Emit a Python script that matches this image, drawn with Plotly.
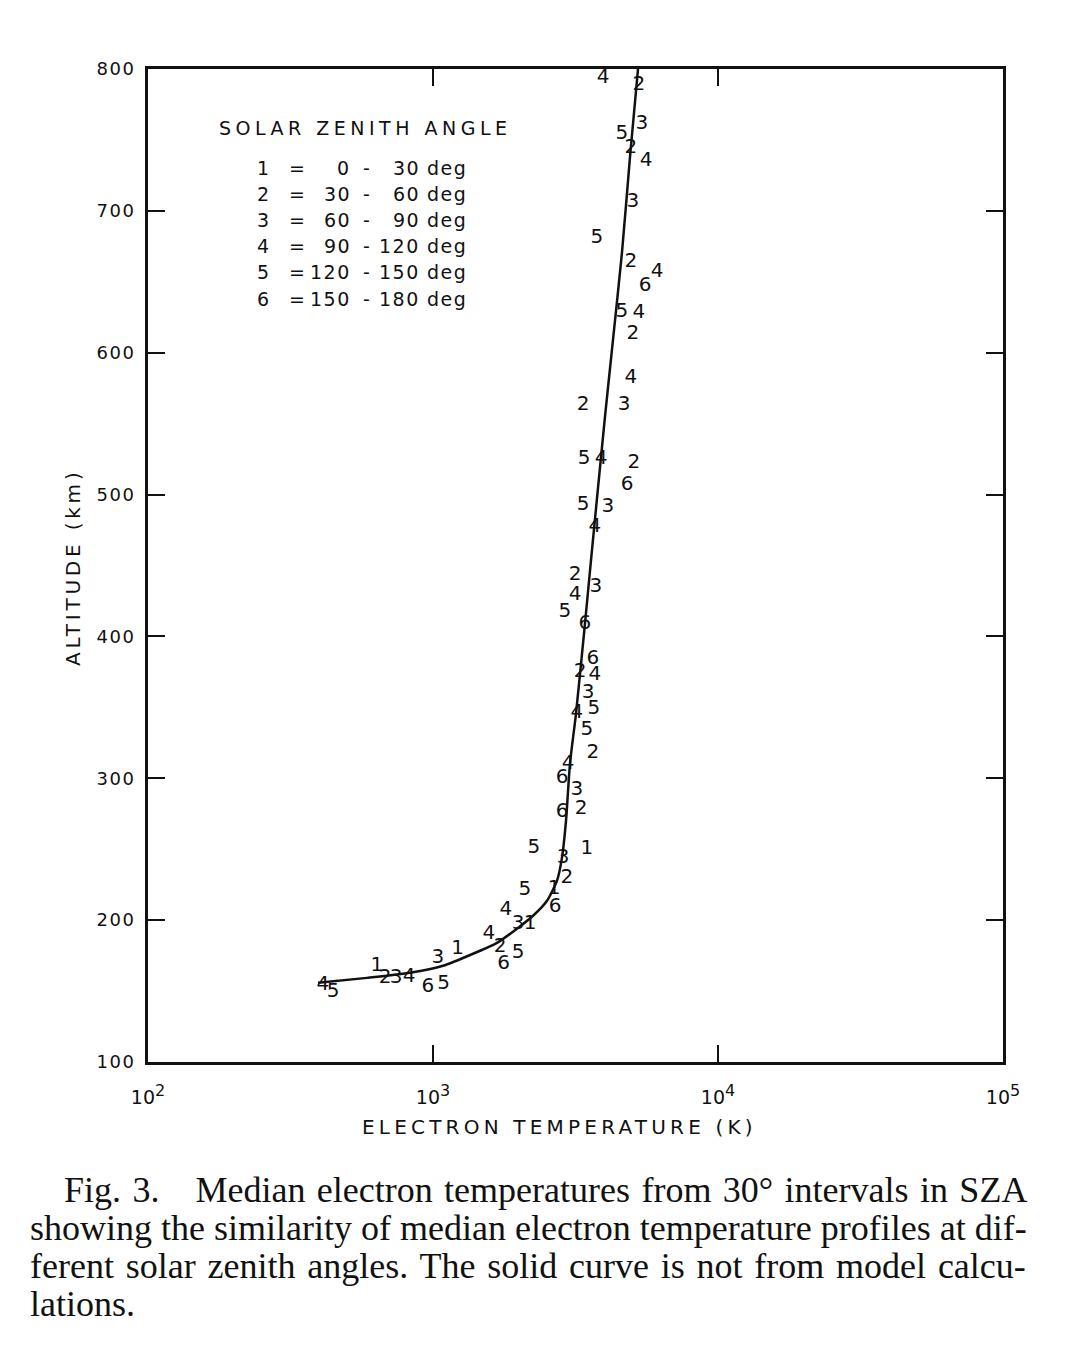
import plotly.graph_objects as go

# ---------------- data ----------------
# Median electron temperature (K) and altitude (km) for each SZA bin
sza1_temp = [3470, 2660, 2190, 1220, 636]
sza1_alt = [250, 222, 197, 180, 168]
sza2_temp = [5280, 4950, 4950, 5030, 3360, 5070, 3150, 3280, 3640, 3310, 2950, 1720, 679]
sza2_alt = [789, 744, 664, 613, 563, 522, 443, 375, 318, 278, 230, 181, 159]
sza3_temp = [5410, 5030, 4680, 4110, 3730, 3500, 3200, 2860, 1990, 1040, 742]
sza3_alt = [761, 706, 563, 491, 435, 360, 292, 244, 197, 173, 159]
sza4_temp = [3950, 5590, 6110, 5280, 4950, 3890, 3700, 3150, 3700, 3200, 2980, 1800, 1570, 824, 411]
sza4_alt = [794, 735, 657, 628, 582, 525, 477, 429, 373, 346, 310, 207, 190, 160, 154]
sza5_temp = [4600, 3760, 4600, 3390, 3360, 2900, 3670, 3470, 2260, 2100, 1990, 1090, 446]
sza5_alt = [754, 681, 629, 525, 493, 417, 349, 334, 251, 221, 177, 155, 149]
sza6_temp = [5550, 4800, 3410, 3640, 2840, 2840, 2680, 1770, 960]
sza6_alt = [647, 507, 409, 384, 300, 276, 209, 169, 153]

# Solid curve
curve_temp = [395, 587, 830, 1084, 1382, 1677, 1971, 2244, 2512, 2723, 2835, 2929,
              3025, 3176, 3415, 3585, 4013, 4246, 4604, 4914, 5240]
curve_alt = [155.8, 159.3, 162.9, 167.8, 176.3, 184.0, 194.0, 203.1, 213.7, 227.8, 244.1, 270.2,
             310.5, 345.8, 409.4, 453.9, 554.9, 602.2, 670.7, 738.5, 800]

# Legend contents
sza_ids = ["1", "2", "3", "4", "5", "6"]
sza_lo = ["0", "30", "60", "90", "120", "150"]
sza_hi = ["30", "60", "90", "120", "150", "180"]

# Axis ticks
y_ticks = [100, 200, 300, 400, 500, 600, 700, 800]
x_ticks = [100, 1000, 10000, 100000]
x_exponents = ["2", "3", "4", "5"]

caption_lines = [
    "Fig. 3.\u2003Median electron temperatures from 30\u00b0 intervals in SZA",
    "showing the similarity of median electron temperature profiles at dif-",
    "ferent solar zenith angles. The solid curve is not from model calcu-",
    "lations.",
]

# ---------------- figure ----------------
W, H = 1071, 1365
OFF = 8  # page body margin of the html page
PL, PR, PT, PB = 148, 1003, 69, 1062  # plot area in window pixels
INK = "#111111"
SANS = "DejaVu Sans"


def pxx(x):
    return (x - PL) / (PR - PL)


def pxy(y):
    return (PB - y) / (PB - PT)


def spaced(s, ls):
    return '<span style="letter-spacing:%spx">%s</span>' % (ls, s)


fig = go.Figure()

fig.add_trace(go.Scatter(
    x=curve_temp, y=curve_alt, mode="lines",
    line=dict(color=INK, width=2.5, shape="spline", smoothing=0.6),
    showlegend=False, hoverinfo="skip"))

groups = [
    ("1", sza1_temp, sza1_alt),
    ("2", sza2_temp, sza2_alt),
    ("3", sza3_temp, sza3_alt),
    ("4", sza4_temp, sza4_alt),
    ("5", sza5_temp, sza5_alt),
    ("6", sza6_temp, sza6_alt),
]
for label, t, a in groups:
    fig.add_trace(go.Scatter(
        x=t, y=a, mode="text", text=[label] * len(t),
        textposition="middle center",
        textfont=dict(family=SANS, size=20, color=INK),
        name="SZA " + label, showlegend=False))

annotations = []

# legend title
annotations.append(dict(
    text=spaced("SOLAR ZENITH ANGLE", 4.5),
    x=pxx(217), y=pxy(128), xref="paper", yref="paper",
    xanchor="left", yanchor="middle", showarrow=False,
    font=dict(family=SANS, size=19, color=INK)))

row_y = [168, 194, 220, 246, 272, 299]
for i in range(6):
    yy = pxy(row_y[i])
    common = dict(xref="paper", yref="paper", yanchor="middle", showarrow=False,
                  font=dict(family=SANS, size=19, color=INK))
    annotations.append(dict(text=sza_ids[i], x=pxx(263), y=yy, xanchor="center", **common))
    annotations.append(dict(text="=", x=pxx(297), y=yy, xanchor="center", **common))
    annotations.append(dict(text=spaced(sza_lo[i], 1.5), x=pxx(353), y=yy, xanchor="right", **common))
    annotations.append(dict(text="-", x=pxx(366), y=yy, xanchor="center", **common))
    annotations.append(dict(text=spaced(sza_hi[i], 1.5), x=pxx(422), y=yy, xanchor="right", **common))
    annotations.append(dict(text=spaced("deg", 1.5), x=pxx(425), y=yy, xanchor="left", **common))

# axis titles
annotations.append(dict(
    text=spaced("ALTITUDE (km)", 3.8),
    x=pxx(73), y=pxy(567), xref="paper", yref="paper", textangle=-90,
    xanchor="center", yanchor="middle", showarrow=False,
    font=dict(family=SANS, size=20, color=INK)))
annotations.append(dict(
    text=spaced("ELECTRON TEMPERATURE (K)", 4.2),
    x=pxx(559), y=pxy(1127), xref="paper", yref="paper",
    xanchor="center", yanchor="middle", showarrow=False,
    font=dict(family=SANS, size=20, color=INK)))

# caption (justified with word spacing)
cap_x = [62, 28, 28, 28]
cap_y = [1190, 1228, 1266, 1304]
cap_ws = [2.4, 0, 2.8, 0]
for i, line in enumerate(caption_lines):
    annotations.append(dict(
        text='<span style="word-spacing:%spx">%s</span>' % (cap_ws[i], line),
        x=pxx(cap_x[i]), y=pxy(cap_y[i]), xref="paper", yref="paper",
        xanchor="left", yanchor="middle", showarrow=False,
        font=dict(family="Liberation Serif", size=36, color=INK)))

fig.update_layout(
    width=W - OFF, height=H - OFF,
    margin=dict(l=PL - OFF, r=W - PR, t=PT - OFF, b=H - PB, pad=0),
    paper_bgcolor="white", plot_bgcolor="white",
    annotations=annotations,
    showlegend=False,
)

fig.update_xaxes(
    type="log", range=[2, 5],
    tickvals=x_ticks,
    ticktext=['10<sup><span style="font-size:16px">%s</span></sup>' % e for e in x_exponents],
    ticks="inside", ticklen=17, tickwidth=2, tickcolor=INK,
    showline=True, linewidth=3, linecolor=INK, mirror="ticks",
    showgrid=False, zeroline=False,
    tickfont=dict(family=SANS, size=19, color=INK),
    ticklabelstandoff=16,
)
fig.update_yaxes(
    range=[100, 800],
    tickvals=y_ticks,
    ticktext=[spaced(str(v), 1.5) for v in y_ticks],
    ticks="inside", ticklen=17, tickwidth=2, tickcolor=INK,
    showline=True, linewidth=3, linecolor=INK, mirror="ticks",
    showgrid=False, zeroline=False,
    tickfont=dict(family=SANS, size=18, color=INK),
    ticklabelstandoff=6,
)

fig.write_html("out.html")
